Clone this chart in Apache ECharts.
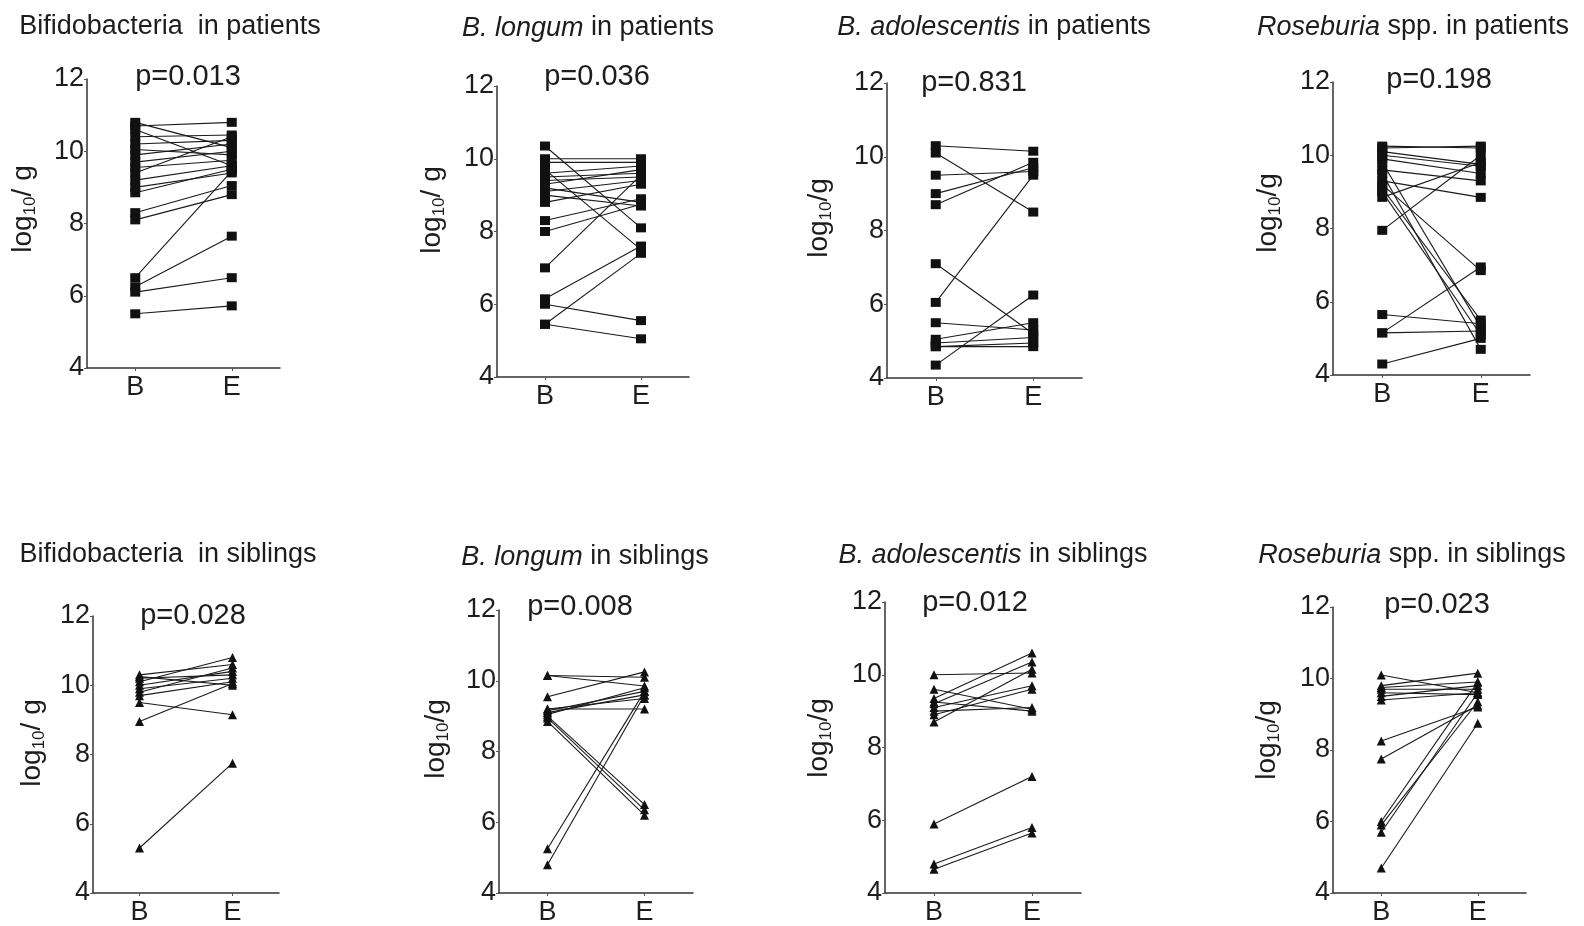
<!DOCTYPE html>
<html>
<head>
<meta charset="utf-8">
<title>Paired abundance before and after</title>
<script src="https://cdn.jsdelivr.net/npm/echarts@6/dist/echarts.min.js"></script>
<style>
  html, body { margin: 0; padding: 0; background: #fff; }
  #chart { width: 1584px; height: 926px; }
</style>
</head>
<body>
<div id="chart"></div>
<script>
// Time points on the x axis
const timePoints = ['B', 'E'];
const yTicks = [4, 6, 8, 10, 12];

// Panel headings (italic part, plain part) and p-values
const titleItalic = ['', 'B. longum', 'B. adolescentis', 'Roseburia', '', 'B. longum', 'B. adolescentis', 'Roseburia'];
const titlePlain = ['Bifidobacteria  in patients', ' in patients', ' in patients', ' spp. in patients',
                    'Bifidobacteria  in siblings', ' in siblings', ' in siblings', ' spp. in siblings'];
const pValues = ['p=0.013', 'p=0.036', 'p=0.831', 'p=0.198', 'p=0.028', 'p=0.008', 'p=0.012', 'p=0.023'];
const yNames = ['log10/ g', 'log10/ g', 'log10/g', 'log10/g', 'log10/ g', 'log10/g', 'log10/g', 'log10/g'];

// log10 counts per gram, paired by subject (B value, E value)
const bifidoPatientsB = [10.8, 10.7, 10.6, 10.4, 10.2, 10.05, 9.9, 9.7, 9.55, 9.4, 9.2, 9.0, 8.85, 8.3, 8.1, 6.5, 6.25, 6.1, 5.5];
const bifidoPatientsE = [10.1, 10.8, 9.6, 10.45, 10.3, 9.9, 10.2, 10.0, 9.75, 10.4, 9.6, 9.4, 9.5, 9.05, 8.8, 9.45, 7.65, 6.5, 5.72];

const longumPatientsB = [10.35, 10.0, 9.9, 9.7, 9.6, 9.5, 9.4, 9.3, 9.2, 9.1, 9.0, 8.8, 8.3, 8.0, 7.0, 6.15, 6.0, 5.45, 5.45];
const longumPatientsE = [8.1, 10.0, 9.9, 7.5, 9.8, 9.6, 9.5, 9.7, 8.8, 9.4, 8.7, 9.3, 8.9, 8.75, 9.55, 7.6, 5.55, 7.4, 5.05];

const adolPatientsB = [10.3, 10.1, 9.5, 9.0, 8.7, 7.1, 6.05, 5.5, 5.05, 4.95, 4.85, 4.85, 4.35];
const adolPatientsE = [10.15, 8.5, 9.6, 9.7, 9.85, 5.2, 9.5, 5.3, 5.5, 5.1, 4.95, 4.85, 6.25];

const rosePatientsB = [10.25, 10.2, 10.1, 10.0, 9.9, 9.8, 9.6, 9.5, 9.3, 9.2, 9.1, 9.0, 8.85, 7.95, 5.65, 5.15, 5.15, 4.3];
const rosePatientsE = [10.2, 10.25, 9.75, 9.7, 9.5, 5.3, 9.3, 4.7, 8.85, 6.85, 5.5, 5.1, 9.8, 10.0, 5.4, 6.95, 5.2, 5.0];

const bifidoSiblingsB = [10.3, 10.25, 10.2, 10.1, 10.0, 9.9, 9.8, 9.7, 9.5, 8.95, 5.3];
const bifidoSiblingsE = [10.6, 10.0, 10.3, 10.8, 10.4, 10.2, 10.5, 10.1, 9.15, 10.05, 7.75];

const longumSiblingsB = [10.15, 10.15, 9.55, 9.2, 9.2, 9.15, 9.1, 9.05, 9.0, 8.95, 8.85, 5.25, 4.8];
const longumSiblingsE = [9.85, 10.1, 10.25, 9.2, 9.5, 9.7, 9.6, 9.8, 6.5, 6.35, 6.2, 9.7, 9.6];

const adolSiblingsB = [10.0, 9.6, 9.35, 9.25, 9.2, 9.1, 9.0, 8.9, 8.7, 5.9, 4.8, 4.65];
const adolSiblingsE = [10.05, 9.05, 10.6, 9.0, 10.35, 9.7, 9.1, 9.6, 10.15, 7.2, 5.8, 5.65];

const roseSiblingsB = [10.1, 9.8, 9.75, 9.7, 9.6, 9.5, 9.4, 8.25, 7.75, 6.0, 5.9, 5.7, 4.7];
const roseSiblingsE = [9.6, 10.15, 9.9, 9.7, 9.55, 9.8, 9.6, 9.2, 9.25, 9.9, 9.35, 9.6, 8.75];

const panelB = [bifidoPatientsB, longumPatientsB, adolPatientsB, rosePatientsB,
                bifidoSiblingsB, longumSiblingsB, adolSiblingsB, roseSiblingsB];
const panelE = [bifidoPatientsE, longumPatientsE, adolPatientsE, rosePatientsE,
                bifidoSiblingsE, longumSiblingsE, adolSiblingsE, roseSiblingsE];

// Layout: plot boxes [left, top, width, height], heading / p-value / axis-name anchors
const boxes = [
  [87, 79, 193, 289], [497, 86, 192, 291], [887, 83, 195, 295], [1333, 82, 197, 293],
  [93, 616, 186, 284], [499, 610, 194, 292], [885, 602, 196, 296], [1333, 607, 193, 293]
];
const titlePos = [[170, 27], [588, 28], [994, 27], [1413, 27], [168, 555], [585, 557], [993, 555], [1412, 555]];
const pPos = [[188, 77], [597, 77], [974, 83], [1439, 80], [193, 616], [580, 607], [975, 603], [1437, 605]];
const yNamePos = [[23, 209], [432, 210], [819, 218], [1268, 213], [32, 743], [436, 739], [819, 738], [1267, 740]];

const FONT = "'Liberation Sans', Arial, sans-serif";
const INK = '#1d1d1d';

const grids = [], xAxes = [], yAxes = [], series = [], graphics = [];

boxes.forEach((b, i) => {
  grids.push({ left: b[0], top: b[1], width: b[2], height: b[3], containLabel: false });
  xAxes.push({
    type: 'value', gridIndex: i, min: 0, max: 4, interval: 1,
    axisLine: { show: true, lineStyle: { color: '#333', width: 1.5 } },
    axisTick: { show: true, length: 3, customValues: [1, 3], lineStyle: { color: '#555' } },
    axisLabel: {
      customValues: [1, 3], margin: 6,
      formatter: v => (v === 1 ? timePoints[0] : v === 3 ? timePoints[1] : ''),
      fontSize: 27, fontFamily: FONT, color: INK
    },
    splitLine: { show: false }
  });
  yAxes.push({
    type: 'value', gridIndex: i, min: yTicks[0], max: yTicks[yTicks.length - 1], interval: 2,
    axisLine: { show: true, lineStyle: { color: '#333', width: 1.5 } },
    axisTick: { show: true, length: 3, lineStyle: { color: '#555' } },
    axisLabel: { fontSize: 27, fontFamily: FONT, color: INK, margin: 3 },
    splitLine: { show: false }
  });

  const isPatients = i < 4;
  const bVals = panelB[i], eVals = panelE[i];
  bVals.forEach((bv, j) => {
    series.push({
      type: 'line', xAxisIndex: i, yAxisIndex: i,
      data: [[1, bv], [3, eVals[j]]],
      symbol: isPatients ? 'rect' : 'triangle',
      symbolSize: isPatients ? [10, 9] : 9,
      showSymbol: true,
      itemStyle: { color: '#111' },
      lineStyle: { color: '#1a1a1a', width: 1.1 },
      silent: true, animation: false
    });
  });

  graphics.push({
    type: 'text', x: titlePos[i][0], y: titlePos[i][1],
    style: {
      text: (titleItalic[i] ? '{it|' + titleItalic[i] + '}' : '') + '{n|' + titlePlain[i] + '}',
      align: 'center', verticalAlign: 'middle',
      rich: {
        it: { fontSize: 27, fontFamily: FONT, fontStyle: 'italic', fill: INK },
        n: { fontSize: 27, fontFamily: FONT, fill: INK }
      }
    }
  });
  graphics.push({
    type: 'text', x: pPos[i][0], y: pPos[i][1],
    style: { text: pValues[i], align: 'center', verticalAlign: 'middle', fontSize: 29, fontFamily: FONT, fill: INK }
  });
  const parts = yNames[i].split('10');
  graphics.push({
    type: 'text', x: yNamePos[i][0], y: yNamePos[i][1], rotation: Math.PI / 2,
    style: {
      text: '{a|' + parts[0] + '}{s|10}{a|' + parts[1] + '}',
      align: 'center', verticalAlign: 'middle',
      rich: {
        a: { fontSize: 28, fontFamily: FONT, fill: INK, lineHeight: 32 },
        s: { fontSize: 17, fontFamily: FONT, fill: INK, lineHeight: 18, verticalAlign: 'bottom' }
      }
    }
  });
});

const chart = echarts.init(document.getElementById('chart'), null, { renderer: 'canvas' });
chart.setOption({
  backgroundColor: '#ffffff',
  animation: false,
  grid: grids,
  xAxis: xAxes,
  yAxis: yAxes,
  series: series,
  graphic: graphics
});
</script>
</body>
</html>
